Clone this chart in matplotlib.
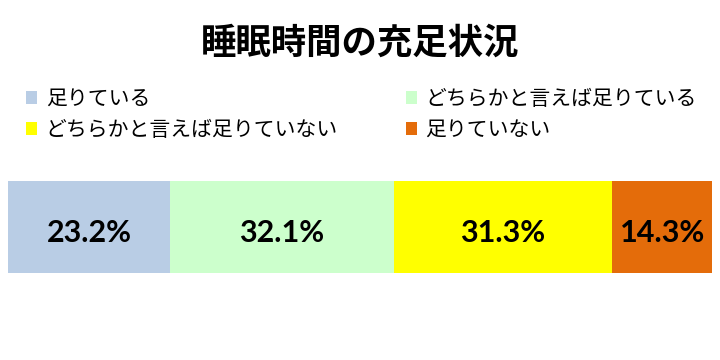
import matplotlib
matplotlib.use("Agg")
import matplotlib.pyplot as plt
from matplotlib.patches import Patch

plt.rcParams['font.family'] = ['Noto Sans CJK JP', 'DejaVu Sans']

title = "睡眠時間の充足状況"
categories = ["足りている", "どちらかと言えば足りている", "どちらかと言えば足りていない", "足りていない"]
values = [23.2, 32.1, 31.3, 14.3]
colors = ["#B9CDE5", "#CCFFCC", "#FFFF00", "#E46C0A"]

W, H = 720, 360
fig = plt.figure(figsize=(W / 100, H / 100), dpi=100)
fig.patch.set_facecolor("white")

ax = fig.add_axes([8 / W, 1 - 273 / H, 704 / W, 92 / H])
left = 0.0
for v, c in zip(values, colors):
    ax.barh(0, v, left=left, height=1.0, color=c, edgecolor="none")
    ax.text(left + v / 2, -0.163, f"{v:.1f}%", ha="center", va="baseline",
            fontsize=22, fontweight="bold", family=["Lato", "DejaVu Sans"], color="black")
    left += v
ax.set_xlim(0, sum(values))
ax.set_ylim(-0.5, 0.5)
ax.axis("off")

fig.text(0.5, 1 - 43 / H, title, ha="center", va="center", fontsize=25.5, fontweight="bold")

order = [0, 2, 1, 3]
handles = [Patch(facecolor=colors[i], edgecolor="none") for i in order]
labels = [categories[i] for i in order]
fig.legend(handles, labels, ncol=2, loc="upper left",
           bbox_to_anchor=(26 / W, 1 - 88 / H), frameon=False,
           fontsize=15, handlelength=0.55, handleheight=0.55,
           handletextpad=0.4, columnspacing=3.25, labelspacing=0.42,
           borderpad=0, borderaxespad=0)

fig.savefig("out.png", dpi=100, facecolor="white")
